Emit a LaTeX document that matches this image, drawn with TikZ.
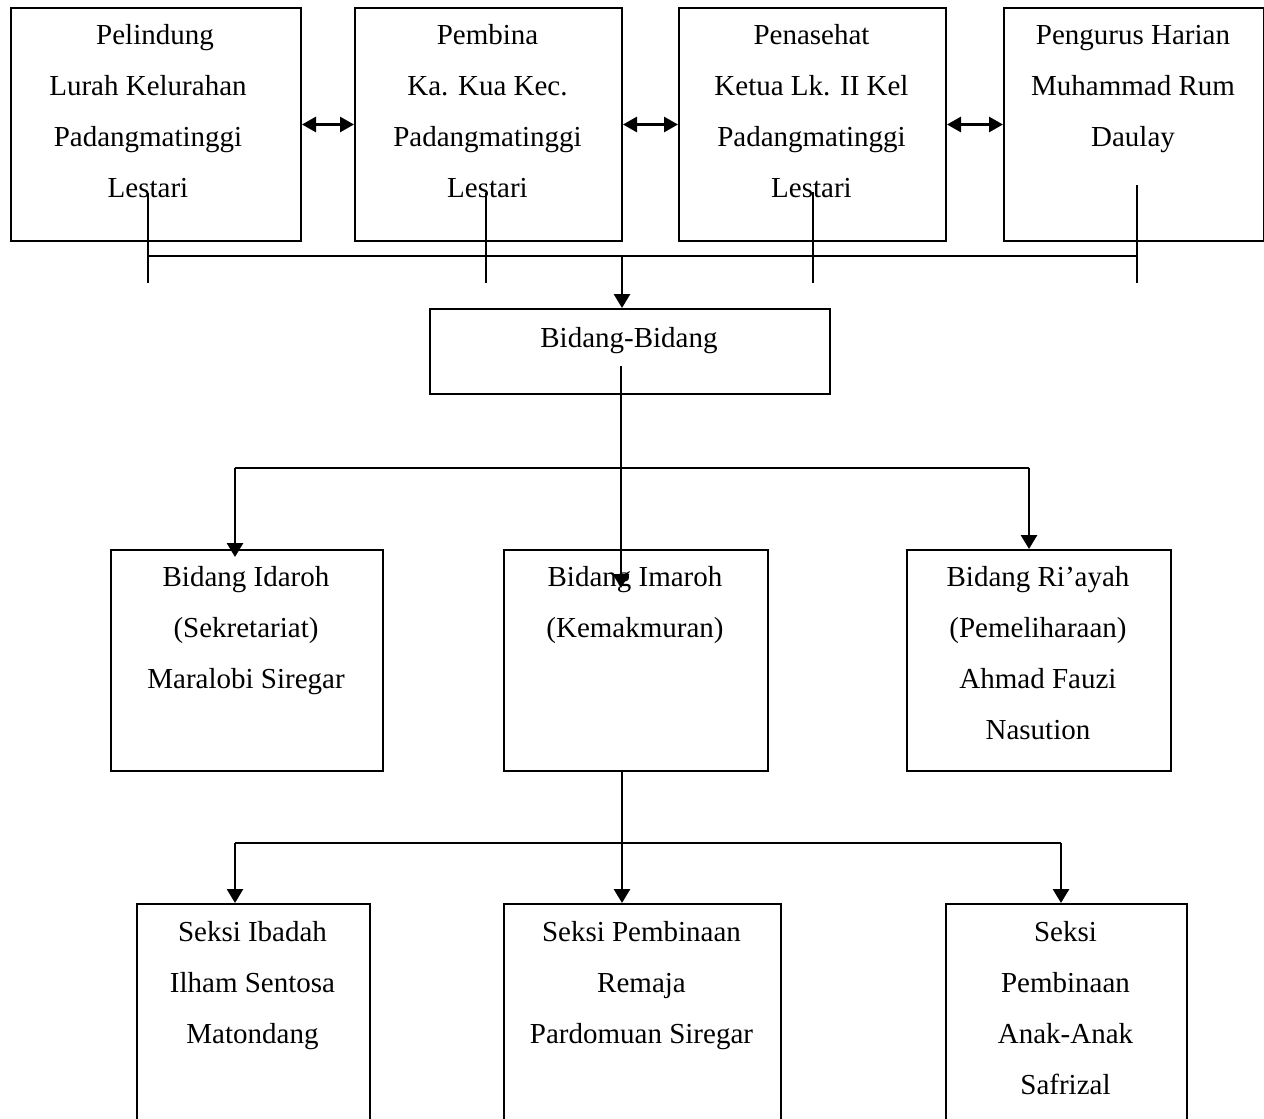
\documentclass[tikz,border=0pt]{standalone}
\usepackage{fontspec}
\setmainfont{Liberation Serif}
\usetikzlibrary{arrows.meta}
\newcommand\lnstrut{\rule{0pt}{15pt}}
\begin{document}
\begin{tikzpicture}[x=0.5pt,y=-0.5pt,
  box/.style={draw, line width=1pt, inner sep=0pt, anchor=north west},
  txt/.style={anchor=north, inner sep=0pt, align=center, font=\fontsize{14.5}{25.5}\selectfont},
  conn/.style={line width=1.1pt},
  arr/.style={line width=1.4pt, -{Triangle[length=7pt,width=8pt]}},
  dbl/.style={line width=1.4pt, {Triangle[length=7pt,width=7.5pt]}-{Triangle[length=7pt,width=7.5pt]}}]
\path[use as bounding box] (0,0) rectangle (1264,1119);
\clip (0,0) rectangle (1264,1119);

% top row
\node[box, minimum width=145pt, minimum height=116.5pt] (b1) at (10,7) {};
\node[box, minimum width=133.5pt, minimum height=116.5pt] (b2) at (354,7) {};
\node[box, minimum width=133.5pt, minimum height=116.5pt] (b3) at (678,7) {};
\node[box, minimum width=130pt, minimum height=116.5pt] (b4) at (1003,7) {};
\node[txt] (b1t) at (148,14) {\lnstrut\hspace*{7pt}Pelindung\\Lurah Kelurahan\\Padangmatinggi\\Lestari};
\node[txt] (b2t) at (487.5,14) {\lnstrut Pembina\\Ka. Kua Kec.\\Padangmatinggi\\Lestari};
\node[txt] (b3t) at (811.5,14) {\lnstrut Penasehat\\Ketua Lk. II Kel\\Padangmatinggi\\Lestari};
\node[txt] (b4t) at (1133,14) {\lnstrut Pengurus Harian\\Muhammad Rum\\Daulay};

\draw[dbl] (b1.east) -- (b2.west);
\draw[dbl] (b2.east) -- (b3.west);
\draw[dbl] (b3.east) -- (b4.west);

% bidang-bidang
\node[box, minimum width=200pt, minimum height=42.5pt] (bb) at (429,308) {};
\node[txt] (bbt) at (629,317) {\lnstrut Bidang-Bidang};

% top connectors
\coordinate (v1a) at (148,193); \coordinate (v1b) at (148,283);
\coordinate (v2a) at (486,193); \coordinate (v2b) at (486,283);
\coordinate (v3a) at (813,192); \coordinate (v3b) at (813,283);
\coordinate (v4a) at (1137,185); \coordinate (v4b) at (1137,283);
\coordinate (hL) at (148,256); \coordinate (hR) at (1137,256);
\coordinate (hC) at (622,256);
\draw[conn] (v1a) -- (v1b);
\draw[conn] (v2a) -- (v2b);
\draw[conn] (v3a) -- (v3b);
\draw[conn] (v4a) -- (v4b);
\draw[conn] (hL) -- (hR);
\draw[arr] (hC) -- (hC |- bb.north);

% middle row
\node[box, minimum width=136pt, minimum height=110.5pt] (m1) at (110,549) {};
\node[box, minimum width=132pt, minimum height=110.5pt] (m2) at (503,549) {};
\node[box, minimum width=132pt, minimum height=110.5pt] (m3) at (906,549) {};
\node[txt] (m1t) at (246,556) {\lnstrut Bidang Idaroh\\(Sekretariat)\\Maralobi Siregar};
\node[txt] (m2t) at (635,556) {\lnstrut Bidang Imaroh\\(Kemakmuran)};
\node[txt] (m3t) at (1038,556) {\lnstrut Bidang Ri’ayah\\(Pemeliharaan)\\Ahmad Fauzi\\Nasution};

\coordinate (bbin) at (621,366);
\coordinate (imt) at (621,588);
\draw[arr] (bbin) -- (imt);
\coordinate (hmL) at (235,468); \coordinate (hmR) at (1029,468);
\coordinate (m1in) at (235,557);
\draw[conn] (hmL) -- (hmR);
\draw[arr] (hmL) -- (m1in);
\draw[arr] (hmR) -- (hmR |- m3.north);

% bottom row
\node[box, minimum width=116.5pt, minimum height=113.5pt] (s1) at (136,903) {};
\node[box, minimum width=138.5pt, minimum height=113.5pt] (s2) at (503,903) {};
\node[box, minimum width=120.5pt, minimum height=113.5pt] (s3) at (945,903) {};
\node[txt] (s1t) at (252.5,911) {\lnstrut Seksi Ibadah\\Ilham Sentosa\\Matondang};
\node[txt] (s2t) at (641.5,911) {\lnstrut Seksi Pembinaan\\Remaja\\Pardomuan Siregar};
\node[txt] (s3t) at (1065.5,911) {\lnstrut Seksi\\Pembinaan\\Anak-Anak\\Safrizal};

\coordinate (lowC) at (622,843);
\coordinate (lowL) at (235,843); \coordinate (lowR) at (1061,843);
\draw[arr] (lowC |- m2.south) -- (lowC |- s2.north);
\draw[conn] (lowL) -- (lowR);
\draw[arr] (lowL) -- (lowL |- s1.north);
\draw[arr] (lowR) -- (lowR |- s3.north);
\end{tikzpicture}
\end{document}
